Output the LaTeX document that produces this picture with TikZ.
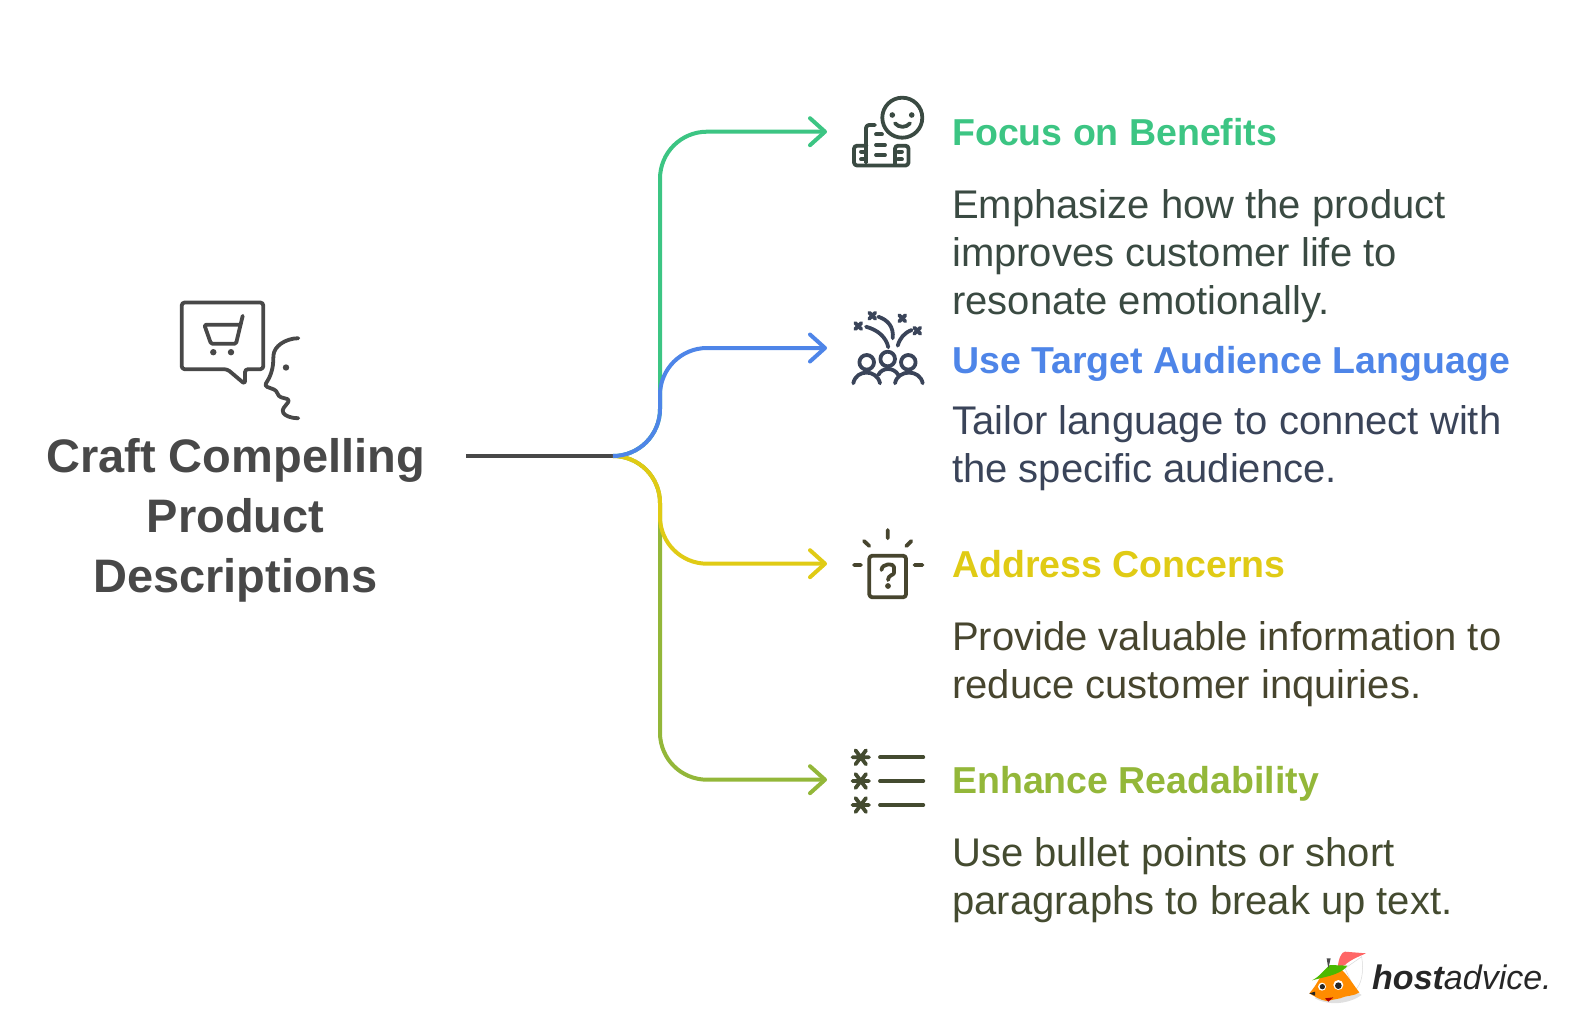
\documentclass[tikz,border=0pt]{standalone}
\usepackage{fontspec}
\setmainfont{Liberation Sans}
\usepackage{tikz}
\usetikzlibrary{
  arrows.meta,
  calc
}
\definecolor{benefitGreen}{HTML}{3CC583}
\definecolor{audienceBlue}{HTML}{4E85E8}
\definecolor{concernYellow}{HTML}{E0CB15}
\definecolor{readableOlive}{HTML}{93B739}
\definecolor{rootGrey}{HTML}{484848}
\definecolor{benefitInk}{HTML}{3A4A42}
\definecolor{audienceInk}{HTML}{3A4459}
\definecolor{concernInk}{HTML}{47452E}
\definecolor{readableInk}{HTML}{444B30}
\tikzset{
  every branch/.style={line width=4pt,rounded corners=47pt,-{Straight Barb[length=15pt,width=27pt,round]}},
  every icon/.style={line width=3.8pt,line cap=round,line join=round,rounded corners=3pt},
  title text/.style={anchor=base west,inner sep=0pt,font=\fontsize{37.5}{44}\selectfont\bfseries},
  body text/.style={anchor=north west,inner sep=0pt,align=left,font=\fontsize{40}{48}\selectfont},
}
\begin{document}
\begin{tikzpicture}[x=1pt,y=-1pt]
\useasboundingbox (0,0) rectangle (1572,1036);
\node[inner sep=0pt,align=center,text=rootGrey,font=\fontsize{47}{60}\selectfont\bfseries] (root) at (235.5,520) {Craft Compelling\\Product\\Descriptions};
\coordinate (rootOut) at (466,456);
\coordinate (hub) at (613,456);
\foreach \name/\ypos in {Benefit/131.7,Audience/348,Concern/563.7,Readable/779.7} {
  \coordinate (bend\name) at (660,\ypos);
  \coordinate (tip\name) at (827,\ypos);
}
\draw[every branch,benefitGreen] (hub) -| (bendBenefit) -- (tipBenefit);
\draw[every branch,readableOlive] (hub) -| (bendReadable) -- (tipReadable);
\draw[line width=4pt,rootGrey] (rootOut) -- (hub);
\draw[every branch,concernYellow] (hub) -| (bendConcern) -- (tipConcern);
\draw[every branch,audienceBlue] (hub) -| (bendAudience) -- (tipAudience);
% titles and texts
\node[title text,text=benefitGreen] (titleBenefit) at (952,145.5) {Focus on Benefits};
\node[body text,text=benefitInk] (textBenefit) at (952,189) {Emphasize how the product\\improves customer life to\\resonate emotionally.};
\node[title text,text=audienceBlue] (titleAudience) at (952,373) {Use Target Audience Language};
\node[body text,text=audienceInk] (textAudience) at (952,405) {Tailor language to connect with\\the specific audience.};
\node[title text,text=concernYellow] (titleConcern) at (952,577) {Address Concerns};
\node[body text,text=concernInk] (textConcern) at (952,621) {Provide valuable information to\\reduce customer inquiries.};
\node[title text,text=readableOlive] (titleReadable) at (952,793) {Enhance Readability};
\node[body text,text=readableInk] (textReadable) at (952,837) {Use bullet points or short\\paragraphs to break up text.};
% root icon
\begin{scope}[every icon,draw=rootGrey,yshift=-1.5pt]
  \draw (245,367.7) -- (263.3,367.7) -- (263.3,301) -- (181.7,301) -- (181.7,367.7) -- (227.3,367.7) -- (245,382.7) -- cycle;
  \draw[rounded corners=1.5pt] (242.7,314.3) -- (236,342.3) -- (211,342.3) -- (204.3,323.3) -- (240,323.3);
  \fill[rootGrey] (213.3,350.7) circle (3.2) (231,350.7) circle (3.2) (286,366) circle (3.2);
  \draw (298.3,336.7) .. controls (285,337) and (274,345) .. (273.3,356.7) .. controls (273,368) and (270,376) .. (264.3,384.3) -- (276.7,389) -- (278.3,395) -- (290,398.3) -- (281.7,409) .. controls (285,414) and (290,416.7) .. (298.3,416.7);
\end{scope}
% benefit icon
\begin{scope}[every icon,draw=benefitInk]
  \draw (902.3,117.7) circle (20);
  \fill[benefitInk] (892.3,115) circle (2.8) (911.7,115) circle (2.8);
  \draw (895,123.3) .. controls (899,128) and (906,128) .. (910,123.3);
  \draw (866,162.7) -- (866,125) -- (875,125);
  \draw (866.5,145.7) -- (854,145.7) -- (854,165.5) -- (908.5,165.5) -- (908.5,145.7) -- (895,145.7) -- (895,165);
  \draw (861,151.7) -- (865,151.7) (861,159.3) -- (865,159.3) (898,151.7) -- (902,151.7) (898,159.3) -- (902,159.3);
  \draw (876,134.3) -- (882,134.3) (876,145) -- (885,145) (876,155) -- (885,155);
\end{scope}
% audience icon
\begin{scope}[every icon,draw=audienceInk]
  \foreach \cx/\cy in {858.3/326,872.3/315.7,902.3/318.3,917.3/330.7} {
    \draw (\cx-3,\cy-3) -- (\cx+3,\cy+3) (\cx-3,\cy+3) -- (\cx+3,\cy-3);
  }
  \draw (866,326.7) .. controls (878,330) and (886,337) .. (888.3,347.3);
  \draw (878.3,316.7) .. controls (888,320) and (894,327) .. (892.7,338.3);
  \draw (897.7,345.7) .. controls (900,338) and (904,333) .. (911.7,330);
  \draw (866.7,362.3) circle (7.3) (887.7,359) circle (7.3) (908.3,362.3) circle (7.3);
  \draw (853.3,383.3) .. controls (856,369) and (877,369) .. (880,383.3);
  \draw (878.3,375) .. controls (882,367) and (894,367) .. (898.3,375);
  \draw (895,383.3) .. controls (898,369) and (920,369) .. (922.7,383.3);
\end{scope}
% concern icon
\begin{scope}[every icon,draw=concernInk]
  \draw (869.3,555.7) rectangle (906,597.3);
  \draw (887.7,530) -- (887.7,538.3) (864,541) -- (869.3,546) (911.3,541) -- (906.3,546) (854,565) -- (861,565) (914.5,565) -- (922.5,565);
  \draw (881.5,570) .. controls (882,563) and (894,563) .. (894,570) .. controls (894,575) and (888,575) .. (888,580);
  \fill[concernInk] (888,586) circle (2.9);
\end{scope}
% readable icon
\begin{scope}[every icon,draw=readableInk]
  \foreach \cy in {757.3,781,805} {
    \draw (852.5,\cy) -- (869,\cy) (855.5,\cy-7) -- (866,\cy+7) (855.5,\cy+7) -- (866,\cy-7);
    \draw (880,\cy) -- (923.3,\cy);
  }
\end{scope}
% logo
\begin{scope}[shift={(1290,935)},scale=1/3]
  \fill[black!12] (75,190) .. controls (120,215) and (180,205) .. (215,180) -- (200,170) -- (80,180) -- cycle;
  \fill[white,draw=black!15,line width=.5pt] (165,100) -- (215,65) .. controls (222,110) and (215,150) .. (195,165) -- cycle;
  \fill[red!60!white] (143,100) .. controls (145,70) and (155,50) .. (165,50) -- (228,55) .. controls (205,65) and (180,75) .. (165,90) -- cycle;
  \fill[orange!90!yellow] (58,175) .. controls (80,150) and (90,125) .. (105,105) -- (150,100) .. controls (170,115) and (190,150) .. (208,172) .. controls (190,185) and (170,180) .. (150,190) -- (110,198) .. controls (90,195) and (75,185) .. (58,175) -- cycle;
  \fill[green!60!black!70!yellow] (66,136) .. controls (90,125) and (105,100) .. (120,90) -- (172,92) .. controls (160,110) and (130,120) .. (110,125) -- cycle;
  \fill[black!70] (110,70) -- (122,70) -- (115,100) -- cycle;
  \fill[white] (96,155) circle (12) (145,150) circle (15);
  \fill[black!85] (97,155) circle (8) (145,152) circle (10);
  \fill[black!85] (58,175) -- (75,170) -- (75,182) -- cycle;
  \fill[red!70!black] (105,190) -- (130,187) -- (115,200) -- cycle;
\end{scope}
\node[anchor=base west,inner sep=0pt,text=black!85,font=\fontsize{34}{40}\selectfont\itshape] (logoText) at (1372,989) {\textbf{host}advice.};
\end{tikzpicture}
\end{document}
